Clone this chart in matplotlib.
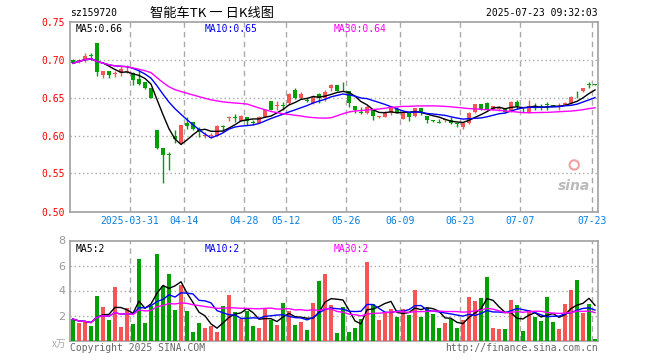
import pandas as pd
import numpy as np
import matplotlib
matplotlib.use('Agg')
import matplotlib.pyplot as plt

plt.rcParams['font.family'] = ['DejaVu Sans Mono', 'Noto Sans CJK SC']

# 日K数据
opens = [0.700, 0.697, 0.699, 0.706, 0.722, 0.679, 0.685, 0.681, 0.682, 0.683,
         0.682, 0.674, 0.671, 0.662, 0.607, 0.583, 0.576, 0.600, 0.590, 0.616,
         0.618, 0.608, 0.600, 0.600, 0.600, 0.612, 0.623, 0.624, 0.619, 0.624,
         0.618, 0.617, 0.625, 0.645, 0.639, 0.640, 0.643, 0.660, 0.650, 0.647,
         0.643, 0.655, 0.650, 0.662, 0.666, 0.659, 0.658, 0.639, 0.631, 0.630,
         0.633, 0.624, 0.625, 0.630, 0.635, 0.622, 0.630, 0.626, 0.636, 0.626,
         0.620, 0.617, 0.621, 0.621, 0.617, 0.611, 0.616, 0.631, 0.641, 0.643,
         0.634, 0.635, 0.636, 0.631, 0.644, 0.634, 0.630, 0.639, 0.639, 0.641,
         0.640, 0.637, 0.640, 0.643, 0.655, 0.658, 0.668, 0.668]
closes = [0.695, 0.700, 0.704, 0.705, 0.683, 0.685, 0.679, 0.682, 0.687, 0.685,
          0.673, 0.668, 0.662, 0.650, 0.583, 0.574, 0.575, 0.595, 0.614, 0.613,
          0.608, 0.605, 0.601, 0.601, 0.612, 0.611, 0.624, 0.623, 0.626, 0.619,
          0.617, 0.624, 0.634, 0.634, 0.640, 0.639, 0.654, 0.650, 0.655, 0.646,
          0.651, 0.650, 0.657, 0.666, 0.659, 0.658, 0.643, 0.633, 0.630, 0.638,
          0.626, 0.625, 0.631, 0.636, 0.631, 0.630, 0.625, 0.636, 0.630, 0.620,
          0.619, 0.616, 0.622, 0.617, 0.615, 0.616, 0.630, 0.641, 0.635, 0.635,
          0.639, 0.636, 0.631, 0.644, 0.639, 0.633, 0.639, 0.638, 0.637, 0.640,
          0.639, 0.639, 0.643, 0.650, 0.654, 0.662, 0.667, 0.667]
highs = [0.701, 0.701, 0.708, 0.708, 0.722, 0.685, 0.685, 0.685, 0.691, 0.693,
         0.683, 0.686, 0.671, 0.662, 0.607, 0.583, 0.578, 0.607, 0.614, 0.625,
         0.618, 0.611, 0.605, 0.603, 0.614, 0.614, 0.626, 0.628, 0.627, 0.624,
         0.620, 0.626, 0.635, 0.645, 0.645, 0.644, 0.656, 0.662, 0.657, 0.650,
         0.653, 0.656, 0.660, 0.668, 0.667, 0.671, 0.659, 0.639, 0.637, 0.640,
         0.633, 0.626, 0.632, 0.638, 0.637, 0.630, 0.630, 0.636, 0.636, 0.626,
         0.620, 0.622, 0.622, 0.624, 0.617, 0.618, 0.631, 0.642, 0.642, 0.644,
         0.639, 0.639, 0.636, 0.645, 0.647, 0.636, 0.647, 0.643, 0.641, 0.644,
         0.640, 0.643, 0.644, 0.652, 0.658, 0.663, 0.671, 0.668]
lows = [0.695, 0.695, 0.697, 0.700, 0.678, 0.676, 0.676, 0.677, 0.678, 0.682,
        0.666, 0.666, 0.661, 0.649, 0.582, 0.537, 0.554, 0.590, 0.590, 0.609,
        0.607, 0.598, 0.597, 0.597, 0.600, 0.605, 0.619, 0.618, 0.619, 0.614,
        0.614, 0.616, 0.624, 0.633, 0.634, 0.633, 0.642, 0.648, 0.648, 0.644,
        0.642, 0.643, 0.645, 0.659, 0.658, 0.658, 0.638, 0.630, 0.628, 0.628,
        0.621, 0.623, 0.624, 0.627, 0.629, 0.622, 0.619, 0.625, 0.627, 0.617,
        0.618, 0.616, 0.618, 0.615, 0.611, 0.608, 0.615, 0.630, 0.634, 0.634,
        0.634, 0.632, 0.629, 0.631, 0.635, 0.631, 0.629, 0.634, 0.634, 0.634,
        0.639, 0.633, 0.640, 0.642, 0.650, 0.657, 0.662, 0.667]
# 成交量（万手）
volumes = [1.71, 1.41, 1.47, 1.15, 3.55, 2.67, 1.63, 4.27, 1.07, 2.59,
           1.31, 6.51, 1.41, 2.80, 6.91, 4.40, 5.31, 2.43, 4.45, 2.35,
           0.67, 1.41, 0.99, 1.20, 0.67, 2.75, 3.65, 2.27, 1.73, 2.37,
           1.15, 0.99, 2.53, 1.68, 1.23, 2.99, 2.40, 1.23, 1.47, 0.83,
           2.99, 4.75, 5.31, 2.85, 0.61, 2.67, 0.69, 0.99, 1.71, 6.27,
           2.93, 1.65, 2.27, 2.51, 1.87, 2.51, 2.05, 4.05, 1.87, 2.64,
           2.13, 0.99, 1.41, 1.73, 0.99, 1.65, 3.47, 3.15, 3.39, 5.07,
           0.99, 0.91, 0.91, 3.23, 2.83, 0.75, 2.43, 1.87, 1.55, 3.47,
           1.47, 0.91, 2.91, 4.03, 4.83, 2.19, 2.91, 0.10]

holidays = ['2025-04-04', '2025-05-01', '2025-05-02', '2025-05-05', '2025-06-02']
tick_dates = ['2025-03-31', '2025-04-14', '2025-04-28', '2025-05-12', '2025-05-26',
              '2025-06-09', '2025-06-23', '2025-07-07', '2025-07-23']
tick_labels = ['2025-03-31', '04-14', '04-28', '05-12', '05-26',
               '06-09', '06-23', '07-07', '07-23']

df = pd.DataFrame({'open': opens, 'close': closes, 'high': highs, 'low': lows, 'vol': volumes})
df.index = pd.bdate_range('2025-03-17', '2025-07-23', freq='C', holidays=holidays)
for n in (5, 10, 30):
    df[f'ma{n}'] = df['close'].rolling(n, min_periods=1).mean()
    df[f'vma{n}'] = df['vol'].rolling(n, min_periods=1).mean()

x = np.arange(len(df))
up = df['close'] >= df['open']
RED = '#f55555'
GREEN = '#00a000'
colors = np.where(up, RED, GREEN)
tick_pos = [df.index.get_loc(pd.Timestamp(d)) - 0.5 for d in tick_dates]

fig = plt.figure(figsize=(6.6, 3.6), dpi=100)
ax = fig.add_axes([70 / 660, 1 - 211.5 / 360, 528 / 660, 190 / 360])
axv = fig.add_axes([70 / 660, 1 - 340.5 / 360, 528 / 660, 100 / 360])


def style_axes(a, yticks):
    for s in a.spines.values():
        s.set_color('#a0a0a0')
        s.set_linewidth(1.2)
    a.set_xlim(-0.5, len(df) - 0.5)
    a.set_xticks(tick_pos)
    a.tick_params(length=0)
    for t in tick_pos:
        a.axvline(t, color='#aaaaaa', lw=1, ls=(0, (4, 3)), zorder=0)
    for y in yticks[1:-1]:
        a.axhline(y, color='#aaaaaa', lw=1, ls=(0, (1, 2)), zorder=0)


# K线
style_axes(ax, [0.50, 0.55, 0.60, 0.65, 0.70, 0.75])
ax.set_ylim(0.50, 0.75)
ax.set_yticks([0.50, 0.55, 0.60, 0.65, 0.70, 0.75])
ax.set_yticklabels([f'{v:.2f}' for v in [0.50, 0.55, 0.60, 0.65, 0.70, 0.75]],
                   color='red', fontsize=7)
ax.set_xticklabels(tick_labels, color='#0a7ee0', fontsize=7)
ax.vlines(x, df['low'], df['high'], colors=colors, lw=1, zorder=2)
body = (df['close'] - df['open']).abs().clip(lower=0.0012)
ax.bar(x, body, bottom=np.minimum(df['open'], df['close']), width=0.83,
       color=colors, zorder=3)
ax.plot(x, df['ma5'], color='black', lw=1, zorder=4)
ax.plot(x, df['ma10'], color='blue', lw=1, zorder=4)
ax.plot(x, df['ma30'], color='magenta', lw=1, zorder=4)
ax.text(0.01, 0.985, f"MA5:{df['ma5'].iloc[-1]:.2f}", transform=ax.transAxes,
        va='top', fontsize=7, color='black')
ax.text(0.255, 0.985, f"MA10:{df['ma10'].iloc[-1]:.2f}", transform=ax.transAxes,
        va='top', fontsize=7, color='blue')
ax.text(0.5, 0.985, f"MA30:{df['ma30'].iloc[-1]:.2f}", transform=ax.transAxes,
        va='top', fontsize=7, color='magenta')
# sina 水印
ax.text(0.985, 0.1, 'sina', transform=ax.transAxes, ha='right', va='bottom',
        fontsize=10, color='#bbbbbb', style='italic', weight='bold', family='DejaVu Sans')
ax.scatter([0.955], [0.245], transform=ax.transAxes, s=45, facecolors='none',
           edgecolors='#f4a0a0', linewidths=1.5, zorder=1)

# 成交量
style_axes(axv, [0, 2, 4, 6, 8])
axv.set_ylim(0, 8)
axv.set_yticks([2, 4, 6, 8])
axv.set_yticklabels(['2', '4', '6', '8'], color='#999999', fontsize=8, family='DejaVu Sans')
axv.set_xticklabels([])
axv.bar(x, df['vol'], width=0.83, color=colors, zorder=3)
axv.plot(x, df['vma5'], color='black', lw=1, zorder=4)
axv.plot(x, df['vma10'], color='blue', lw=1, zorder=4)
axv.plot(x, df['vma30'], color='magenta', lw=1, zorder=4)
axv.text(0.01, 0.97, f"MA5:{int(df['vma5'].iloc[-1])}", transform=axv.transAxes,
         va='top', fontsize=7, color='black')
axv.text(0.255, 0.97, f"MA10:{int(df['vma10'].iloc[-1])}", transform=axv.transAxes,
         va='top', fontsize=7, color='blue')
axv.text(0.5, 0.97, f"MA30:{int(df['vma30'].iloc[-1])}", transform=axv.transAxes,
         va='top', fontsize=7, color='magenta')

# 标题和页脚
fig.text(70 / 660, 1 - 13 / 360, 'sz159720', fontsize=7, va='center')
fig.text(150 / 660, 1 - 13 / 360, '智能车TK 一 日K线图', fontsize=9.5, va='center',
         family=['Noto Sans CJK SC', 'DejaVu Sans'])
fig.text(598 / 660, 1 - 13 / 360, '2025-07-23 09:32:03', fontsize=7, va='center', ha='right')
fig.text(70 / 660, 1 - 348 / 360, 'Copyright 2025 SINA.COM', fontsize=7, va='center',
         color='#666666')
fig.text(598 / 660, 1 - 348 / 360, 'http://finance.sina.com.cn', fontsize=7, va='center',
         ha='right', color='#666666')
fig.text(66 / 660, 1 - 344 / 360, 'x万', fontsize=7, va='center', ha='right',
         color='#aaaaaa', family=['Noto Sans CJK SC', 'DejaVu Sans'])

fig.savefig('out.png', dpi=100)
